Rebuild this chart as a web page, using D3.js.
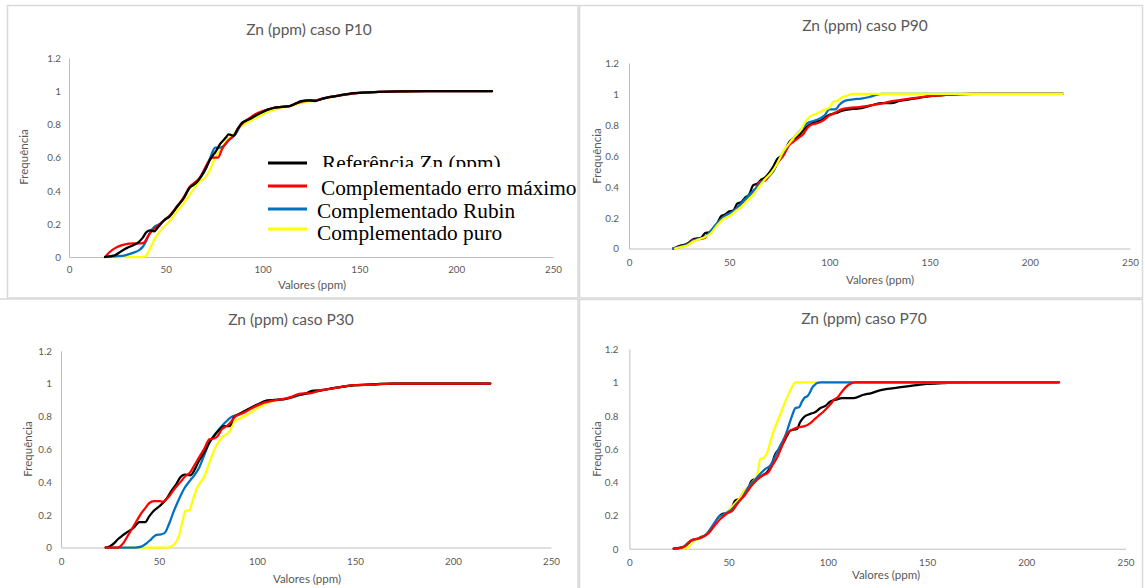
<!DOCTYPE html>
<html>
<head>
<meta charset="utf-8">
<script src="https://cdn.jsdelivr.net/npm/d3@7"></script>
<style>
  html, body { margin: 0; padding: 0; background: #fff; }
  svg { display: block; }
</style>
</head>
<body>
<svg id="chart" width="1145" height="588"></svg>
<script>
// ---------------- DATA ----------------
const seriesNames = ["Referência Zn (ppm)", "Complementado erro máximo", "Complementado Rubin", "Complementado puro"];
const seriesColors = ["#000000", "#ff0000", "#0070c0", "#ffff00"];
const panelTitles = ["Zn (ppm) caso P10", "Zn (ppm) caso P90", "Zn (ppm) caso P30", "Zn (ppm) caso P70"];
const xAxisTitle = "Valores (ppm)";
const yAxisTitle = "Frequência";
const xTicks = [0, 50, 100, 150, 200, 250];
const xTickLabels = ["0", "50", "100", "150", "200", "250"];
const yTicks = [0, 0.2, 0.4, 0.6, 0.8, 1, 1.2];
const yTickLabels = ["0", "0.2", "0.4", "0.6", "0.8", "1", "1.2"];

// P10
const p10_ref = [[18.6,0],[21,0.004],[24,0.012],[27,0.035],[30,0.055],[33,0.07],[35.5,0.085],[38,0.115],[40,0.15],[42,0.16],[44,0.155],[46,0.18],[49,0.22],[52,0.245],[55.6,0.3],[59,0.35],[62.5,0.42],[65,0.44],[67,0.465],[70,0.52],[73,0.59],[76,0.64],[78,0.68],[81,0.72],[82.5,0.74],[85,0.73],[87,0.77],[89.5,0.81],[93,0.83],[96,0.85],[100,0.875],[103,0.89],[106,0.9],[110,0.905],[114,0.91],[117,0.925],[120,0.94],[124,0.945],[127,0.94],[131,0.955],[135,0.965],[140,0.975],[145,0.985],[150,0.99],[160,0.995],[170,0.998],[185,1],[218.5,1]];
const p10_max = [[18.6,0],[21,0.03],[24,0.055],[27,0.07],[31,0.08],[34,0.082],[37,0.082],[39,0.09],[41,0.13],[44,0.17],[46,0.19],[49,0.22],[52,0.25],[55.6,0.3],[59,0.355],[62.5,0.425],[65,0.45],[67,0.47],[70,0.53],[72,0.575],[74,0.6],[77,0.6],[79,0.65],[82,0.7],[85,0.73],[87,0.77],[90,0.81],[93,0.835],[96,0.86],[100,0.88],[103,0.89],[106,0.9],[110,0.905],[114,0.91],[117,0.925],[120,0.935],[124,0.945],[127,0.945],[131,0.955],[135,0.965],[140,0.975],[150,0.99],[160,0.995],[185,1],[218.5,1]];
const p10_rubin = [[18.6,0],[24,0.004],[29,0.01],[33,0.025],[36,0.04],[38,0.06],[40,0.1],[42,0.15],[44,0.18],[47,0.2],[50,0.23],[53,0.26],[56,0.31],[59,0.35],[62.5,0.42],[65,0.44],[68,0.48],[71,0.54],[73,0.6],[75.5,0.66],[78,0.66],[80,0.67],[83,0.71],[86,0.74],[89,0.8],[93,0.83],[96,0.85],[100,0.875],[103,0.89],[106,0.9],[110,0.905],[114,0.91],[117,0.925],[120,0.94],[124,0.945],[127,0.945],[131,0.955],[135,0.965],[140,0.975],[150,0.99],[160,0.995],[185,1],[218.5,1]];
const p10_puro = [[18.6,0],[37,0],[39.3,0.002],[41,0.03],[43,0.08],[46,0.14],[49,0.18],[53,0.23],[56,0.28],[59,0.32],[62,0.37],[65,0.42],[68,0.46],[70.5,0.48],[73,0.53],[75.5,0.6],[79,0.66],[82,0.71],[85,0.74],[89,0.79],[93,0.815],[96,0.835],[100,0.86],[104,0.88],[108,0.895],[112,0.905],[116,0.915],[120,0.93],[125,0.94],[130,0.95],[135,0.962],[140,0.975],[150,0.99],[160,0.995],[185,1],[218.5,1]];

// P90
const p90_ref = [[22,0],[24,0.01],[26,0.02],[28,0.025],[30,0.04],[32,0.06],[34,0.065],[36,0.07],[38,0.1],[40,0.105],[42,0.13],[44,0.16],[46,0.21],[48,0.22],[50,0.24],[52,0.245],[54,0.29],[56,0.3],[58,0.33],[60,0.35],[62,0.41],[64,0.42],[66,0.445],[68,0.46],[70,0.49],[72,0.53],[74,0.58],[76,0.6],[78,0.64],[80,0.69],[82,0.71],[84,0.72],[86,0.75],[88,0.78],[90,0.8],[93,0.82],[96,0.83],[98,0.85],[100,0.865],[103,0.875],[106,0.89],[110,0.9],[114,0.905],[118,0.915],[122,0.93],[126,0.94],[131,0.94],[135,0.955],[140,0.965],[145,0.975],[150,0.985],[155,0.99],[165,0.998],[175,1],[216.5,1]];
const p90_max = [[22,0],[24,0.005],[27,0.015],[30,0.03],[32,0.055],[35,0.06],[38,0.07],[40,0.1],[43,0.14],[46,0.19],[48,0.21],[51,0.23],[54,0.26],[57,0.3],[60,0.34],[63,0.38],[65,0.43],[68,0.44],[70,0.47],[72,0.5],[74,0.55],[77,0.6],[80,0.67],[82,0.69],[85,0.72],[87,0.74],[89,0.78],[91,0.8],[94,0.81],[97,0.83],[100,0.86],[103,0.88],[106,0.9],[110,0.91],[115,0.915],[120,0.925],[125,0.935],[130,0.95],[135,0.96],[140,0.97],[145,0.978],[150,0.985],[155,0.99],[160,0.995],[170,1],[216.5,1]];
const p90_rubin = [[22,0],[25,0.01],[28,0.02],[31,0.04],[34,0.06],[37,0.07],[40,0.1],[43,0.15],[46,0.19],[49,0.22],[52,0.24],[55,0.28],[58,0.32],[61,0.36],[64,0.4],[67,0.44],[70,0.47],[72,0.5],[74,0.55],[77,0.62],[80,0.68],[83,0.73],[86,0.77],[89,0.81],[92,0.825],[95,0.84],[97.5,0.86],[100,0.9],[103,0.9],[105,0.93],[107.6,0.955],[112,0.965],[116,0.97],[120,0.98],[123,0.992],[126,1],[216.5,1]];
const p90_puro = [[23,0],[26,0.01],[29,0.02],[32,0.045],[35,0.06],[38,0.075],[41,0.1],[44,0.15],[47,0.19],[50,0.21],[53,0.24],[56,0.27],[59,0.31],[62,0.35],[65,0.4],[68,0.45],[71,0.49],[74,0.55],[77,0.63],[80,0.68],[83,0.73],[86,0.77],[88,0.82],[90,0.85],[94,0.875],[98,0.9],[100,0.91],[102,0.95],[104,0.955],[106,0.975],[109,0.99],[112,1],[216.5,1]];

// P30
const p30_ref = [[22.8,0],[25,0.008],[27,0.025],[29,0.05],[31,0.07],[34,0.095],[37,0.12],[40,0.155],[43,0.155],[45,0.19],[47,0.22],[49,0.24],[51,0.26],[54,0.3],[56,0.34],[59,0.39],[61,0.43],[63,0.445],[66,0.44],[68,0.47],[70,0.52],[73,0.58],[76,0.645],[78,0.68],[81,0.72],[83,0.74],[86,0.74],[88,0.79],[91,0.815],[95,0.84],[100,0.87],[105,0.895],[109,0.9],[114,0.905],[117,0.915],[121,0.93],[125,0.94],[128,0.955],[133,0.96],[138,0.97],[143,0.98],[150,0.99],[160,0.995],[170,1],[219,1]];
const p30_max = [[22.8,0],[28.8,0],[30,0.005],[32,0.03],[34,0.07],[36,0.11],[39,0.17],[41,0.21],[43,0.24],[45,0.27],[47.5,0.283],[50,0.283],[52,0.28],[55,0.31],[58,0.36],[61,0.4],[63,0.43],[66,0.46],[68,0.5],[70,0.54],[73,0.6],[75.7,0.66],[78,0.665],[80,0.68],[82,0.72],[85,0.745],[87,0.77],[89,0.8],[92,0.815],[96,0.84],[100,0.865],[104,0.885],[108,0.895],[113,0.905],[117,0.915],[121,0.935],[124,0.94],[127,0.94],[131,0.955],[136,0.965],[141,0.975],[146,0.985],[150,0.99],[160,0.993],[168,1],[219,1]];
const p30_rubin = [[22.8,0],[38,0],[41,0.005],[43,0.02],[46,0.05],[48.4,0.076],[51,0.08],[53,0.09],[55,0.14],[57.5,0.22],[60,0.29],[62.9,0.36],[66,0.41],[68,0.44],[70.6,0.49],[73,0.56],[75.7,0.64],[78,0.68],[81.6,0.735],[84,0.765],[86.8,0.795],[90,0.81],[95,0.84],[100,0.87],[105,0.895],[110,0.9],[114,0.905],[118,0.915],[122,0.93],[126,0.94],[130,0.95],[135,0.962],[140,0.973],[145,0.983],[150,0.99],[160,0.995],[170,1],[219,1]];
const p30_puro = [[22.8,0],[54,0],[56,0.005],[58.5,0.03],[60.3,0.076],[62,0.16],[63.5,0.225],[65.5,0.225],[67,0.28],[69.7,0.37],[73,0.43],[75.5,0.51],[78.2,0.595],[80.5,0.645],[82.5,0.675],[85.9,0.706],[88.4,0.767],[91,0.785],[93.6,0.8],[97,0.825],[100.4,0.85],[105,0.88],[109,0.895],[114,0.905],[118,0.915],[122,0.93],[126,0.94],[130,0.95],[135,0.962],[140,0.972],[145,0.982],[150,0.99],[160,0.995],[170,1],[219,1]];

// P70
const p70_ref = [[22.3,0],[25,0.005],[27.4,0.01],[29.5,0.03],[31.6,0.05],[34,0.055],[36,0.07],[38,0.08],[40,0.1],[42.5,0.14],[45,0.19],[47,0.21],[49,0.215],[51,0.23],[53.4,0.29],[55.5,0.3],[57.6,0.34],[60,0.37],[61.8,0.41],[64.4,0.42],[67,0.44],[69.4,0.46],[71.5,0.5],[73.6,0.57],[75.5,0.6],[77.8,0.64],[79.5,0.68],[81.1,0.71],[84.5,0.72],[86,0.76],[87.9,0.79],[91.2,0.81],[93.5,0.82],[96.3,0.845],[99,0.86],[101.3,0.885],[104,0.895],[107.2,0.905],[113,0.905],[118,0.925],[122,0.935],[125.7,0.95],[130,0.96],[135,0.968],[140,0.976],[145,0.983],[150,0.99],[158,0.995],[170,1],[216.5,1]];
const p70_max = [[22.3,0],[25,0.003],[28,0.015],[31,0.05],[34,0.06],[37,0.07],[40,0.095],[43,0.14],[46,0.18],[49,0.21],[52,0.23],[55,0.28],[58,0.32],[61,0.37],[64,0.41],[67,0.44],[70,0.46],[72,0.5],[74.5,0.55],[77,0.62],[79.5,0.69],[82.8,0.72],[85,0.73],[87.9,0.735],[91.2,0.755],[93.5,0.78],[95.4,0.8],[97.5,0.82],[99.6,0.845],[101.5,0.87],[103,0.895],[105,0.91],[107.2,0.945],[110.5,0.985],[113.9,1],[216.5,1]];
const p70_rubin = [[24,0],[27,0.01],[30,0.04],[33,0.055],[36,0.065],[39,0.09],[42,0.14],[45,0.19],[48,0.21],[51,0.23],[54,0.27],[57,0.31],[60,0.37],[63,0.41],[66,0.45],[68.5,0.48],[71,0.5],[72.5,0.53],[74.4,0.58],[76.5,0.63],[78.6,0.68],[80.3,0.74],[82,0.8],[83.7,0.845],[85.5,0.85],[87,0.885],[88.5,0.91],[89.6,0.915],[91,0.94],[92,0.965],[93.5,0.985],[94.6,0.995],[96.3,1],[216.5,1]];
const p70_puro = [[27,0],[29.7,0.01],[32,0.04],[35,0.06],[38,0.08],[41,0.12],[44,0.17],[47,0.2],[50,0.23],[53,0.27],[56,0.31],[58,0.35],[60,0.37],[62,0.4],[64.4,0.44],[66,0.54],[67.7,0.545],[69.5,0.58],[71,0.64],[72.5,0.7],[74.4,0.76],[76.5,0.82],[78.6,0.885],[80.3,0.93],[82,0.975],[83.7,1],[216.5,1]];

// ---------------- LAYOUT ----------------
const panels = [
  { title: panelTitles[0], series: [p10_ref, p10_max, p10_rubin, p10_puro], order: [3, 2, 1, 0],
    x0: 69, x1: 553, yb: 257, yt: 58, tX: 309, tY: 35, ylX: 24, ylY: 157, xlX: 312, xlY: 289, xPad: 9.5, yPad: 8 },
  { title: panelTitles[1], series: [p90_ref, p90_max, p90_rubin, p90_puro], order: [0, 1, 2, 3],
    x0: 629, x1: 1130, yb: 248.5, yt: 63, tX: 865, tY: 31, ylX: 597, ylY: 156, xlX: 880, xlY: 284, xPad: 10.5, yPad: 10 },
  { title: panelTitles[2], series: [p30_ref, p30_max, p30_rubin, p30_puro], order: [3, 2, 0, 1],
    x0: 61, x1: 551, yb: 547.5, yt: 350.7, tX: 291, tY: 325, ylX: 28, ylY: 449, xlX: 307, xlY: 583, xPad: 10.5, yPad: 9 },
  { title: panelTitles[3], series: [p70_ref, p70_max, p70_rubin, p70_puro], order: [0, 3, 2, 1],
    x0: 629.4, x1: 1125.5, yb: 548.7, yt: 349, tX: 864, tY: 324, ylX: 597, ylY: 449, xlX: 886, xlY: 579, xPad: 10.5, yPad: 11 }
];

const svg = d3.select("#chart");
const txtFont = "Lato, 'Open Sans', sans-serif";
const grey = "#595959";

// panel borders
const borderColor = "#d9d9d9";
const borders = svg.append("g").attr("fill", "none").attr("stroke", borderColor).attr("stroke-width", 1.5);
borders.append("rect").attr("x", 7.5).attr("y", 5.5).attr("width", 570.5).attr("height", 292.5);
borders.append("rect").attr("x", 579.5).attr("y", 5.5).attr("width", 563).attr("height", 292.5);
borders.append("path").attr("d", "M0,299 H578 M578,299 V588");
borders.append("rect").attr("x", 579.5).attr("y", 299.5).attr("width", 563).attr("height", 300);

panels.forEach((p, pi) => {
  const g = svg.append("g");
  const x = d3.scaleLinear().domain([0, 250]).range([p.x0, p.x1]);
  const y = d3.scaleLinear().domain([0, 1.2]).range([p.yb, p.yt]);

  // axes
  const xa = g.append("g").attr("transform", `translate(0,${p.yb})`)
    .call(d3.axisBottom(x).tickValues(xTicks).tickFormat((d, i) => xTickLabels[i])
      .tickSizeInner(0).tickSizeOuter(0).tickPadding(p.xPad));
  const ya = g.append("g").attr("transform", `translate(${p.x0},0)`)
    .call(d3.axisLeft(y).tickValues(yTicks).tickFormat((d, i) => yTickLabels[i])
      .tickSizeInner(0).tickSizeOuter(0).tickPadding(p.yPad));
  [xa, ya].forEach(a => {
    a.select(".domain").attr("stroke", "#bfbfbf").attr("stroke-width", 1);
    a.selectAll("text").attr("fill", grey).style("font-family", txtFont).style("font-size", "9.8px");
  });
  ya.selectAll(".tick text").attr("dy", "0.35em");

  // lines
  const line = d3.line().x(d => x(d[0])).y(d => y(d[1])).curve(d3.curveMonotoneX);
  p.order.forEach(si => {
    g.append("path").datum(p.series[si])
      .attr("fill", "none").attr("stroke", seriesColors[si])
      .attr("stroke-width", 2.25).attr("stroke-linejoin", "round").attr("stroke-linecap", "round")
      .attr("d", line);
  });

  // titles
  g.append("text").attr("x", p.tX).attr("y", p.tY).attr("text-anchor", "middle")
    .attr("fill", grey).style("font-family", txtFont).style("font-size", "15.5px").text(p.title);
  g.append("text").attr("x", p.xlX).attr("y", p.xlY).attr("text-anchor", "middle")
    .attr("fill", grey).style("font-family", txtFont).style("font-size", "11.5px").text(xAxisTitle);
  g.append("text").attr("transform", `translate(${p.ylX},${p.ylY}) rotate(-90)`)
    .attr("text-anchor", "middle").attr("dy", "0.35em")
    .attr("fill", grey).style("font-family", txtFont).style("font-size", "11.5px").text(yAxisTitle);
});

// legend (in first panel)
const legendLineY = [163, 186, 209, 229];
const legendTextX = [322, 321, 317, 317];
const legendTextY = [170, 195, 218, 240];
svg.append("defs").append("clipPath").attr("id", "legclip")
  .append("rect").attr("x", 0).attr("y", 0).attr("width", 1145).attr("height", 167);
const leg = svg.append("g");
seriesNames.forEach((name, i) => {
  leg.append("line").attr("x1", 268).attr("x2", 307).attr("y1", legendLineY[i]).attr("y2", legendLineY[i])
    .attr("stroke", seriesColors[i]).attr("stroke-width", 3);
  const t = leg.append("text").attr("x", legendTextX[i]).attr("y", legendTextY[i])
    .attr("fill", "#000").style("font-family", "'Liberation Serif', 'Times New Roman', serif")
    .style("font-size", "21.3px").text(name);
  if (i === 0) t.attr("clip-path", "url(#legclip)");
});
</script>
</body>
</html>
